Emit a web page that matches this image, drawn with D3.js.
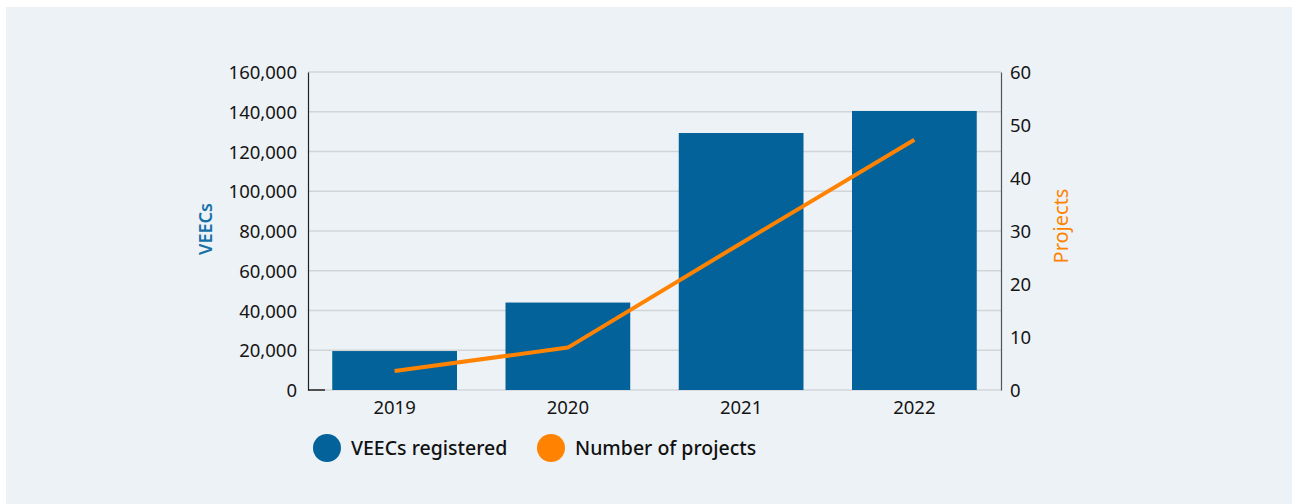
<!DOCTYPE html>
<html>
<head>
<meta charset="utf-8">
<script src="https://cdn.jsdelivr.net/npm/d3@7/dist/d3.min.js"></script>
<style>
  html, body { margin: 0; padding: 0; background: #ffffff; }
  svg { display: block; font-family: "Noto Sans", "Open Sans", sans-serif; }
  svg text { font-family: "Noto Sans", "Open Sans", sans-serif; }
</style>
</head>
<body>
<svg id="chart" width="1292" height="504"></svg>
<script>
// Registered VEECs and number of projects per year
const years = ["2019", "2020", "2021", "2022"];
const veecs = [19600, 44000, 129300, 140400];
const projects = [3.6, 8, 27.7, 47.2];
const leftTicks = [0, 20000, 40000, 60000, 80000, 100000, 120000, 140000, 160000];
const rightTicks = [0, 10, 20, 30, 40, 50, 60];
const legendLabels = ["VEECs registered", "Number of projects"];

const W = 1292, H = 504;
const plot = { left: 308, right: 1001, top: 72, bottom: 390 };
const blue = "#03629a", orange = "#ff8300";
const FONT = '"Noto Sans", "Open Sans", sans-serif';

const svg = d3.select("#chart");

// panel background
svg.append("rect").attr("x", 6).attr("y", 7).attr("width", W - 6).attr("height", H - 7)
  .attr("fill", "#edf2f6");

const x = d3.scaleBand().domain(years).range([plot.left, plot.right])
  .paddingInner(0.28).paddingOuter(0.14);
const yL = d3.scaleLinear().domain([0, 160000]).range([plot.bottom, plot.top]);
const yR = d3.scaleLinear().domain([0, 60]).range([plot.bottom, plot.top]);

// horizontal grid
svg.append("g").selectAll("line").data(leftTicks).join("line")
  .attr("x1", plot.left).attr("x2", plot.right)
  .attr("y1", d => yL(d)).attr("y2", d => yL(d))
  .attr("stroke", "#d2d5d8").attr("stroke-width", 1.5);

// bars
svg.append("g").selectAll("rect").data(years).join("rect")
  .attr("x", d => x(d)).attr("width", x.bandwidth())
  .attr("y", (d, i) => yL(veecs[i]))
  .attr("height", (d, i) => yL(0) - yL(veecs[i]))
  .attr("fill", blue);

// projects line
const line = d3.line()
  .x((d, i) => x(years[i]) + x.bandwidth() / 2)
  .y(d => yR(d));
svg.append("path").datum(projects).attr("d", line)
  .attr("fill", "none").attr("stroke", orange).attr("stroke-width", 4)
  .attr("stroke-linejoin", "round");

function styleAxisText(g) {
  g.attr("font-family", FONT);
  g.selectAll("text").attr("font-size", 18.5).attr("fill", "#151515");
}

// left axis
const axL = svg.append("g").attr("transform", `translate(${plot.left},0)`)
  .call(d3.axisLeft(yL).tickValues(leftTicks).tickSize(0).tickPadding(11)
    .tickFormat(d3.format(",")));
axL.select(".domain").attr("stroke", "#222").attr("stroke-width", 1.2);
styleAxisText(axL);
axL.selectAll("text").attr("dy", "0.36em");

// right axis
const axR = svg.append("g").attr("transform", `translate(${plot.right},0)`)
  .call(d3.axisRight(yR).tickValues(rightTicks).tickSize(0).tickPadding(9));
axR.select(".domain").attr("stroke", "#555").attr("stroke-width", 1.2);
styleAxisText(axR);
axR.selectAll("text").attr("dy", "0.36em");

// bottom axis labels
const axB = svg.append("g").attr("transform", `translate(0,${plot.bottom})`)
  .call(d3.axisBottom(x).tickSize(0).tickPadding(11));
axB.select(".domain").remove();
styleAxisText(axB);
svg.append("line").attr("x1", plot.left).attr("x2", plot.left + 17)
  .attr("y1", plot.bottom).attr("y2", plot.bottom)
  .attr("stroke", "#222").attr("stroke-width", 1.5);

// axis titles
svg.append("text").attr("transform", `translate(212,${(plot.top + plot.bottom) / 2 - 2}) rotate(-90)`)
  .attr("text-anchor", "middle").attr("font-size", 18).attr("font-weight", 600)
  .attr("fill", "#1670a8").text("VEECs");
svg.append("text").attr("transform", `translate(1068,${(plot.top + plot.bottom) / 2 - 5}) rotate(-90)`)
  .attr("text-anchor", "middle").attr("font-size", 20)
  .attr("fill", orange).text("Projects");

// legend
const legendColors = [blue, orange];
const legendX = [327, 551];
const lg = svg.append("g").selectAll("g").data(legendLabels).join("g")
  .attr("transform", (d, i) => `translate(${legendX[i]},448)`);
lg.append("circle").attr("r", 14).attr("fill", (d, i) => legendColors[i]);
lg.append("text").attr("x", 24).attr("dy", "0.36em")
  .attr("font-size", 19.5).attr("font-weight", 500).attr("fill", "#111")
  .text(d => d);
</script>
</body>
</html>
